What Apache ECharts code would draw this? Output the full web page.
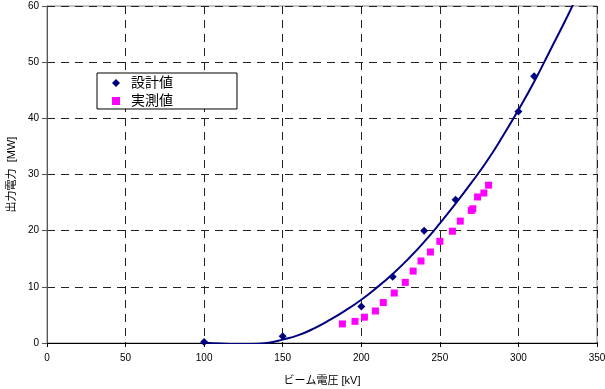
<!DOCTYPE html>
<html><head><meta charset="utf-8">
<script src="https://cdn.jsdelivr.net/npm/echarts@6/dist/echarts.min.js"></script>
<style>html,body{margin:0;padding:0;background:#fff}#c{width:605px;height:389px}</style>
</head><body><div id="c"></div>
<script>
// 設計値 (design values)
const designX = [100, 150, 200, 220, 240, 260, 300, 310];
const designY = [0.2, 1.2, 6.5, 11.8, 20.0, 25.5, 41.2, 47.5];
// 実測値 (measured values)
const measX = [188, 196, 202, 209, 214, 221, 228, 233, 238, 244, 250, 258, 263, 270, 271, 274, 278, 281];
const measY = [3.4, 3.85, 4.6, 5.7, 7.2, 8.9, 10.8, 12.8, 14.6, 16.2, 18.1, 19.9, 21.7, 23.6, 23.9, 26.0, 26.7, 28.1];
// trend curve
const curveX = [100, 110, 120, 130, 140, 150, 160, 170, 180, 190, 200, 210, 220, 230, 240, 250, 260, 270, 280, 290, 300, 310, 320, 330, 336];
const curveY = [0.1, -0.1, -0.2, -0.2, 0.0, 0.6, 1.4, 2.6, 4.1, 5.8, 7.7, 9.9, 12.3, 15.0, 18.0, 21.3, 24.8, 28.5, 32.4, 36.8, 41.5, 46.5, 52.0, 57.5, 61.0];
const xTicks = [0, 50, 100, 150, 200, 250, 300, 350];
const yTicks = [0, 10, 20, 30, 40, 50, 60];
const seriesNames = ['設計値', '実測値'];
const xName = 'ビーム電圧 [kV]';
const yName = '出力電力  [MW]';

const zip = (a, b) => a.map((v, i) => [v, b[i]]);
const font = '"Liberation Sans", Arial, "Noto Sans CJK JP", sans-serif';
const chart = echarts.init(document.getElementById('c'), null, {renderer: 'canvas'});
chart.setOption({
  animation: false,
  textStyle: {fontFamily: font},
  grid: {left: 47, right: 8, top: 6, bottom: 46, show: true, borderColor: '#888', borderWidth: 1,
         containLabel: false, outerBoundsMode: 'none'},
  legend: {
    data: seriesNames, orient: 'vertical', left: 97, top: 73,
    backgroundColor: '#fff', borderColor: '#000', borderWidth: 1,
    padding: [3, 64, 1, 15], itemGap: 4, itemWidth: 8, itemHeight: 8,
    textStyle: {fontSize: 14, color: '#000', fontFamily: font, padding: [0, 0, 0, 6]}
  },
  xAxis: {
    type: 'value', min: xTicks[0], max: xTicks[xTicks.length - 1], interval: 50,
    name: xName, nameLocation: 'middle', nameGap: 32,
    nameTextStyle: {fontSize: 11, color: '#000'},
    axisLine: {show: true, lineStyle: {color: '#000', width: 1}},
    axisTick: {show: true, inside: false, length: 4, lineStyle: {color: '#000'}},
    axisLabel: {fontSize: 10, color: '#000', margin: 10},
    splitLine: {show: true, lineStyle: {color: '#222', type: [8, 6], width: 1}}
  },
  yAxis: {
    type: 'value', min: yTicks[0], max: yTicks[yTicks.length - 1], interval: 10,
    name: yName, nameLocation: 'middle', nameGap: 30, nameRotate: 90,
    nameTextStyle: {fontSize: 11, color: '#000'},
    axisLine: {show: true, lineStyle: {color: '#555', width: 1}},
    axisTick: {show: true, inside: false, length: 5, lineStyle: {color: '#555'}},
    axisLabel: {fontSize: 10, color: '#000', margin: 8},
    splitLine: {show: true, lineStyle: {color: '#222', type: [8, 6], width: 1}}
  },
  series: [
    {name: 'trend', type: 'line', data: zip(curveX, curveY), smooth: true, showSymbol: false,
     symbol: 'none', clip: true, lineStyle: {color: '#000080', width: 2}, z: 3, silent: true},
    {name: seriesNames[0], type: 'scatter', data: zip(designX, designY), symbol: 'diamond',
     symbolSize: 8, itemStyle: {color: '#000080', opacity: 1}, z: 4},
    {name: seriesNames[1], type: 'scatter', data: zip(measX, measY), symbol: 'rect',
     symbolSize: 7, itemStyle: {color: '#FF00FF', opacity: 1}, z: 4}
  ]
});
</script></body></html>
